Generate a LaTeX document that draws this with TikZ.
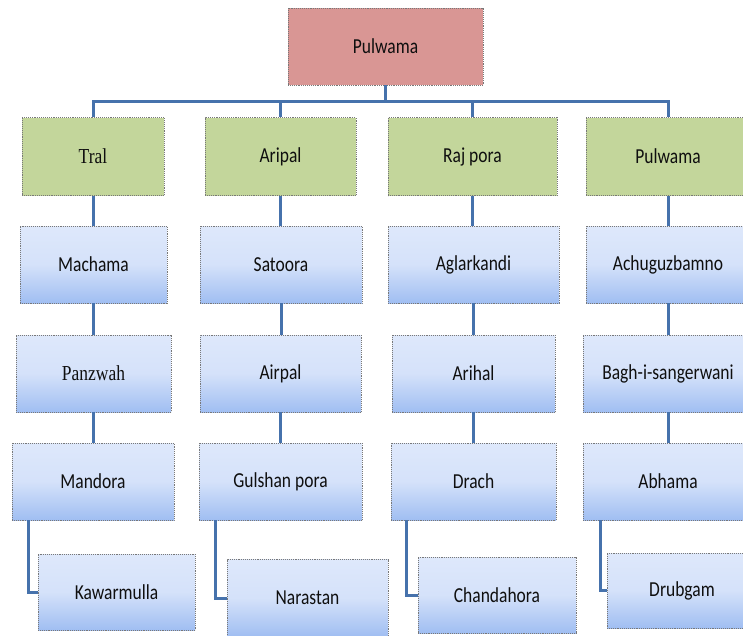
\documentclass[tikz,border=0pt]{standalone}
\usepackage{fontspec}
\usepackage{graphicx}
\setmainfont{Carlito}
\newfontfamily\serifx{Liberation Serif}
\usetikzlibrary{calc}
\definecolor{topfill}{RGB}{217,150,148}
\definecolor{greenfill}{RGB}{195,214,155}
\definecolor{bluetop}{RGB}{222,232,251}
\definecolor{bluebot}{RGB}{160,190,242}
\definecolor{linkc}{RGB}{70,114,172}
\definecolor{edgec}{RGB}{120,120,120}
\definecolor{txt}{RGB}{15,15,15}
\newcommand\tstretch[1]{\scalebox{1}[1.22]{#1}}
\tikzset{
  basebox/.style={draw=edgec, densely dotted, line width=0.9pt, inner sep=0pt,
    text=txt, font=\fontsize{17.5}{20}\selectfont},
  topbox/.style={basebox, fill=topfill},
  greenbox/.style={basebox, fill=greenfill, minimum height=78pt},
  bluebox/.style={basebox, top color=bluetop, bottom color=bluebot, middle color=bluetop!85!bluebot, minimum height=77pt},
  link/.style={draw=linkc, line width=3pt, solid},
}
\begin{document}
\begin{tikzpicture}[x=1pt,y=-1pt]
\useasboundingbox (0,0) rectangle (743,635);
\clip (0,0) rectangle (743,635);
% top
\node[topbox, minimum width=195pt, minimum height=77pt] (top) at (385.5,46.5) {\tstretch{Pulwama}};
% level 1
\node[greenbox, minimum width=142pt] (tral) at (93,156.5) {\tstretch{\serifx Tral}};
\node[greenbox, minimum width=151pt] (aripal) at (280.5,156.5) {\tstretch{Aripal}};
\node[greenbox, minimum width=169pt] (rajpora) at (472.5,156.5) {\tstretch{Raj pora}};
\node[greenbox, minimum width=164pt] (pulw) at (668,156.5) {\tstretch{Pulwama}};
% row 1
\node[bluebox, minimum width=147pt] (machama) at (93.5,264.5) {\tstretch{Machama}};
\node[bluebox, minimum width=162pt] (satoora) at (281,264.5) {\tstretch{Satoora}};
\node[bluebox, minimum width=171pt] (aglar) at (473.5,264.5) {\tstretch{Aglarkandi}};
\node[bluebox, minimum width=164pt] (achu) at (668,264.5) {\tstretch{Achuguzbamno}};
% row 2
\node[bluebox, minimum width=155pt] (panzwah) at (93.5,373.5) {\tstretch{\serifx Panzwah}};
\node[bluebox, minimum width=161pt] (airpal) at (280.5,373.5) {\tstretch{Airpal}};
\node[bluebox, minimum width=163pt] (arihal) at (473.5,373.5) {\tstretch{Arihal}};
\node[bluebox, minimum width=170pt] (bagh) at (668,373.5) {\tstretch{Bagh-i-sangerwani}};
% row 3
\node[bluebox, minimum width=162pt] (mandora) at (93,481.5) {\tstretch{Mandora}};
\node[bluebox, minimum width=163pt] (gulshan) at (280.5,481.5) {\tstretch{Gulshan pora}};
\node[bluebox, minimum width=165pt] (drach) at (473.5,481.5) {\tstretch{Drach}};
\node[bluebox, minimum width=170pt] (abhama) at (668,481.5) {\tstretch{Abhama}};
% row 4
\node[bluebox, minimum width=157pt, minimum height=76pt] (kawar) at (116.5,592) {\tstretch{Kawarmulla}};
\node[bluebox, minimum width=161pt, minimum height=77pt] (narastan) at (307.5,598) {\tstretch{Narastan}};
\node[bluebox, minimum width=158pt, minimum height=76pt] (chanda) at (497,595) {\tstretch{Chandahora}};
\node[bluebox, minimum width=150pt, minimum height=75pt] (drub) at (682,590.5) {\tstretch{Drubgam}};
% bus
\coordinate (bus) at (385.5,101);
\draw[link] (top.south) -- (bus);
\draw[link] (tral.north) |- (bus) -| (pulw.north);
\draw[link] (aripal.north) -- (aripal.north |- bus);
\draw[link] (rajpora.north) -- (rajpora.north |- bus);
% columns
\foreach \a/\b in {tral/machama, machama/panzwah, panzwah/mandora,
                   aripal/satoora, satoora/airpal, airpal/gulshan,
                   rajpora/aglar, aglar/arihal, arihal/drach,
                   pulw/achu, achu/bagh, bagh/abhama}
  \draw[link] (\a.south) -- (\a.south |- \b.north);
% elbows
\draw[link] ($(mandora.south west)+(17,0)$) |- (kawar.west);
\draw[link] ($(gulshan.south west)+(17,0)$) |- (narastan.west);
\draw[link] ($(drach.south west)+(16,0)$) |- (chanda.west);
\draw[link] ($(abhama.south west)+(18,0)$) |- (drub.west);
\end{tikzpicture}
\end{document}
